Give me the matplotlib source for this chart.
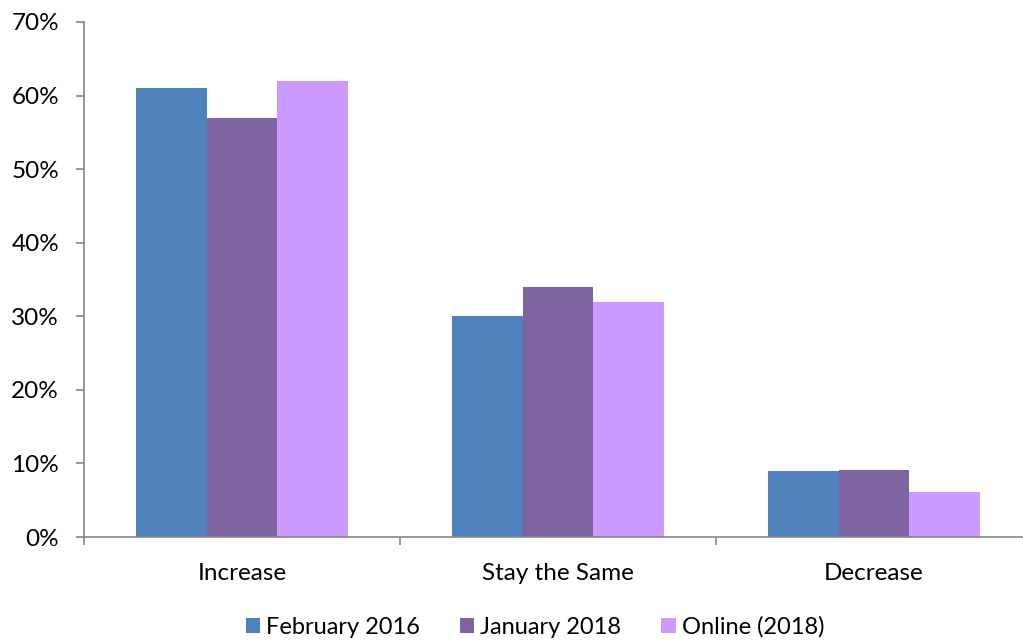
import matplotlib.pyplot as plt
import numpy as np

# data
categories = ['Increase', 'Stay the Same', 'Decrease']
series_names = ['February 2016', 'January 2018', 'Online (2018)']
feb_2016 = [61, 30, 9]
jan_2018 = [57, 34, 9.1]
online_2018 = [62, 32, 6.1]
colors = ['#4F81BD', '#8064A2', '#CC99FF']

plt.rcParams['font.family'] = ['Lato', 'DejaVu Sans']

fig = plt.figure(figsize=(10.23, 6.41), dpi=100)
ax = fig.add_axes([0.0821, 0.1622, 0.9267, 0.8035])

x = np.arange(len(categories))
width = 0.223
for i, (vals, name) in enumerate(zip([feb_2016, jan_2018, online_2018], series_names)):
    ax.bar(x + (i - 1) * width, vals, width, color=colors[i], label=name)

ax.set_xlim(-0.5, len(categories) - 0.5)
ax.set_ylim(0, 70)
ax.set_yticks(np.arange(0, 71, 10))
ax.set_yticklabels([f'{v}%' for v in range(0, 71, 10)])

# category labels at centres, tick marks at the boundaries
ax.set_xticks(x)
ax.set_xticklabels(categories)
ax.set_xticks(np.arange(-0.5, len(categories), 1), minor=True)
ax.tick_params(axis='x', which='major', length=0, pad=19, labelsize=17.5)
ax.tick_params(axis='x', which='minor', length=6, width=1.2, color='#868686')
ax.tick_params(axis='y', length=6, width=1.2, color='#868686', pad=12, labelsize=17.5)

for side in ['top', 'right']:
    ax.spines[side].set_visible(False)
for side in ['left', 'bottom']:
    ax.spines[side].set_color('#868686')
    ax.spines[side].set_linewidth(1.2)

fig.legend(loc='center', bbox_to_anchor=(0.523, 0.022), ncol=3, frameon=False,
           fontsize=17, handlelength=0.6, handleheight=0.6, handletextpad=0.25,
           columnspacing=1.7)

plt.savefig('out.png', dpi=100)
